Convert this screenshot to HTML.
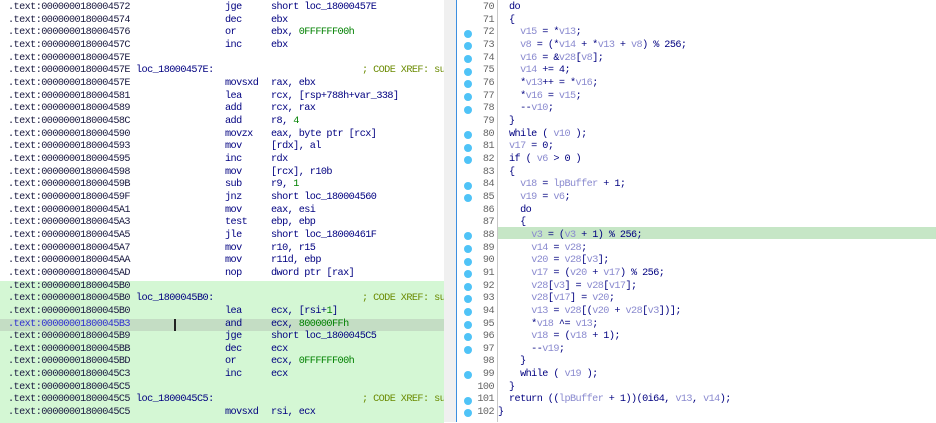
<!DOCTYPE html>
<html><head><meta charset="utf-8"><style>
body{margin:0;width:936px;height:422px;overflow:hidden;background:#fff;position:relative;font-family:"Liberation Mono",monospace;font-size:10.2px;letter-spacing:-0.57px;}
.r{position:absolute;height:12.66px;line-height:12.66px;white-space:pre;}
.s{position:absolute;top:0;}
.a{color:#1a1a40}.m{color:#000080}.o{color:#000080}.n{color:#008000}.c{color:#6a8a00}.l{color:#000080}
.v{color:#8a8acf}.k{color:#000080}
.dot{position:absolute;left:464px;width:8px;height:8px;border-radius:50%;background:#4fc3f7}
.ln{position:absolute;width:40px;left:454px;text-align:right;color:#666;}
</style></head><body>
<div style="position:absolute;left:0;top:280.5px;width:444px;height:142px;background:#d4f7d4"></div>
<div style="position:absolute;left:0;top:318.5px;width:444px;height:12.66px;background:#c4ddc4"></div>
<div style="position:absolute;left:174px;top:319px;width:2px;height:12px;background:#222"></div>
<div style="position:absolute;left:444px;top:0;width:12px;height:422px;background:#f0f0f0"></div>
<div style="position:absolute;left:456px;top:0;width:1px;height:422px;background:#3c8fe0"></div>
<div style="position:absolute;left:497px;top:0;width:1px;height:422px;background:#c8c8c8"></div>
<div style="position:absolute;left:498px;top:226.6px;width:438px;height:12.66px;background:#c6e6c6"></div>
<div id="L" style="position:absolute;left:0;top:0;width:444px;height:422px;overflow:hidden"></div>
<div id="R"></div>
<script>
var L=[
["0000000180004572","","jge","short loc_18000457E"],
["0000000180004574","","dec","ebx"],
["0000000180004576","","or","ebx, <span class=n>0FFFFFF00h</span>"],
["000000018000457C","","inc","ebx"],
["000000018000457E","","",""],
["000000018000457E","loc_18000457E:","","","; CODE XREF: su"],
["000000018000457E","","movsxd","rax, ebx"],
["0000000180004581","","lea","rcx, [rsp+788h+var_338]"],
["0000000180004589","","add","rcx, rax"],
["000000018000458C","","add","r8, <span class=n>4</span>"],
["0000000180004590","","movzx","eax, byte ptr [rcx]"],
["0000000180004593","","mov","[rdx], al"],
["0000000180004595","","inc","rdx"],
["0000000180004598","","mov","[rcx], r10b"],
["000000018000459B","","sub","r9, <span class=n>1</span>"],
["000000018000459F","","jnz","short loc_180004560"],
["00000001800045A1","","mov","eax, esi"],
["00000001800045A3","","test","ebp, ebp"],
["00000001800045A5","","jle","short loc_18000461F"],
["00000001800045A7","","mov","r10, r15"],
["00000001800045AA","","mov","r11d, ebp"],
["00000001800045AD","","nop","dword ptr [rax]"],
["00000001800045B0","","",""],
["00000001800045B0","loc_1800045B0:","","","; CODE XREF: su"],
["00000001800045B0","","lea","ecx, [rsi+<span class=n>1</span>]"],
["00000001800045B3","","and","ecx, <span class=n>800000FFh</span>"],
["00000001800045B9","","jge","short loc_1800045C5"],
["00000001800045BB","","dec","ecx"],
["00000001800045BD","","or","ecx, <span class=n>0FFFFFF00h</span>"],
["00000001800045C3","","inc","ecx"],
["00000001800045C5","","",""],
["00000001800045C5","loc_1800045C5:","","","; CODE XREF: su"],
["00000001800045C5","","movsxd","rsi, ecx"]];
var h="";
L.forEach(function(r,i){var t=(2+i*12.66).toFixed(2);
h+='<div class=r style="top:'+t+'px;left:0;width:444px">'+
'<span class="s a" style="left:8px;'+(i==25?'color:#3030d0':'')+'">.text:'+r[0]+'</span>'+
(r[1]?'<span class="s l" style="left:136px">'+r[1]+'</span>':'')+
(r[2]?'<span class="s m" style="left:225px">'+r[2]+'</span>':'')+
(r[3]?'<span class="s o" style="left:271px">'+r[3]+'</span>':'')+
(r[4]?'<span class="s c" style="left:362px">'+r[4]+'</span>':'')+'</div>';});
document.getElementById('L').innerHTML=h;
function v(x){return '<span class=v>'+x+'</span>';}
var R=[
[0,'<span class=k>do</span>'],[0,'{'],
[1,'  '+v('v15')+' = *'+v('v13')+';'],
[1,'  '+v('v8')+' = (*'+v('v14')+' + *'+v('v13')+' + '+v('v8')+') % 256;'],
[1,'  '+v('v16')+' = &amp;'+v('v28')+'['+v('v8')+'];'],
[1,'  '+v('v14')+' += 4;'],
[1,'  *'+v('v13')+'++ = *'+v('v16')+';'],
[1,'  *'+v('v16')+' = '+v('v15')+';'],
[1,'  --'+v('v10')+';'],
[0,'}'],
[1,'<span class=k>while</span> ( '+v('v10')+' );'],
[1,v('v17')+' = 0;'],
[1,'<span class=k>if</span> ( '+v('v6')+' &gt; 0 )'],
[0,'{'],
[1,'  '+v('v18')+' = '+v('lpBuffer')+' + 1;'],
[1,'  '+v('v19')+' = '+v('v6')+';'],
[0,'  <span class=k>do</span>'],
[0,'  {'],
[1,'    '+v('v3')+' = ('+v('v3')+' + 1) % 256;'],
[1,'    '+v('v14')+' = '+v('v28')+';'],
[1,'    '+v('v20')+' = '+v('v28')+'['+v('v3')+'];'],
[1,'    '+v('v17')+' = ('+v('v20')+' + '+v('v17')+') % 256;'],
[1,'    '+v('v28')+'['+v('v3')+'] = '+v('v28')+'['+v('v17')+'];'],
[1,'    '+v('v28')+'['+v('v17')+'] = '+v('v20')+';'],
[1,'    '+v('v13')+' = '+v('v28')+'[('+v('v20')+' + '+v('v28')+'['+v('v3')+'])];'],
[1,'    *'+v('v18')+' ^= '+v('v13')+';'],
[1,'    '+v('v18')+' = ('+v('v18')+' + 1);'],
[1,'    --'+v('v19')+';'],
[0,'  }'],
[1,'  <span class=k>while</span> ( '+v('v19')+' );'],
[0,'}'],
[1,'<span class=k>return</span> (('+v('lpBuffer')+' + 1))(0i64, '+v('v13')+', '+v('v14')+');'],
[1,'}']];
h="";
R.forEach(function(r,i){var t=2+i*12.66;
if(r[0])h+='<div class=dot style="top:'+(t+2.3).toFixed(2)+'px"></div>';
h+='<div class="r ln" style="top:'+t.toFixed(2)+'px">'+(70+i)+'</div>';
h+='<div class="r k" style="top:'+t.toFixed(2)+'px;left:'+(i==32?498:509)+'px">'+r[1]+'</div>';});
document.getElementById('R').innerHTML=h;
</script>
</body></html>
